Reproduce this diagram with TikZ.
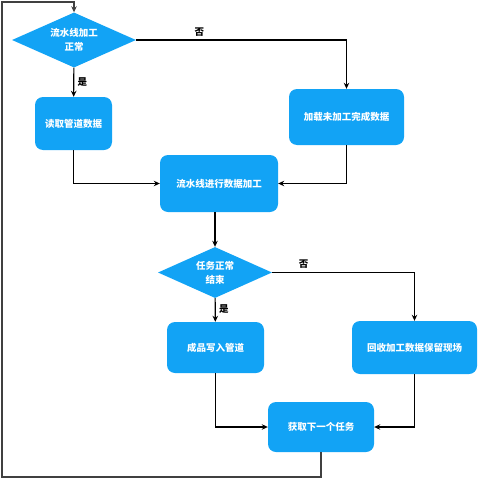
\documentclass[tikz,border=0pt]{standalone}
\usepackage{fontspec}
\newfontfamily\cjk{Noto Sans CJK SC}
\usetikzlibrary{shapes.geometric,arrows.meta}
\definecolor{flowblue}{RGB}{18,163,245}
\tikzset{
  stepbox/.style={rectangle, rounded corners=8pt, fill=flowblue, text=white,
    font=\cjk\bfseries\fontsize{9.5}{14}\selectfont, align=center, inner sep=2pt},
  choice/.style={diamond, fill=flowblue, text=white, aspect=2.2, inner sep=0pt,
    font=\cjk\bfseries\fontsize{9.5}{14}\selectfont, align=center},
  flow/.style={draw=black, line width=1.1pt, -{Stealth[length=6pt,width=5.5pt]}},
  tag/.style={font=\cjk\bfseries\fontsize{9.5}{12}\selectfont, text=black}
}
\begin{document}
\begin{tikzpicture}[x=1pt, y=-1pt]
            \useasboundingbox (0, 0) rectangle (479, 479);
            \node[choice, minimum width=124pt, minimum height=55pt](check) at (74, 40) {流水线加工\\正常};
            \node[stepbox, minimum width=77pt, minimum height=53pt](read) at (73.5, 123.5) {读取管道数据};
            \node[stepbox, minimum width=115pt, minimum height=56pt](load) at (346.5, 117) {加载未加工完成数据};
            \node[stepbox, minimum width=118pt, minimum height=57pt](work) at (219, 183.5) {流水线进行数据加工};
            \node[choice, minimum width=114pt, minimum height=51pt](done) at (215, 272.5) {任务正常\\结束};
            \node[stepbox, minimum width=97pt, minimum height=51pt](write) at (215.5, 347.5) {成品写入管道};
            \node[stepbox, minimum width=125pt, minimum height=53pt](keep) at (414.5, 347.5) {回收加工数据保留现场};
            \node[stepbox, minimum width=106pt, minimum height=50pt](next) at (321, 427) {获取下一个任务};
            \coordinate(loop) at (2, 477);
            \path[flow] (check) -- node[tag, right, pos=0.5]{是} (read);
            \path[flow] (check.east) -| node[tag, above, pos=0.15]{否} (load.north);
            \path[flow] (read.south) |- (work.west);
            \path[flow] (load.south) |- (work.east);
            \path[flow] (work.south -| done.north) -- (done.north);
            \path[flow] (done) -- node[tag, right, pos=0.45]{是} (write);
            \path[flow] (done.east) -| node[tag, above, pos=0.11]{否} (keep.north);
            \path[flow] (write.south) |- (next.west);
            \path[flow] (keep.south) |- (next.east);
            \path[flow, draw=black!75, line width=1.4pt] (next.south) |- (loop) |- (2, 2) -| (check.north);
        \end{tikzpicture}
\end{document}
